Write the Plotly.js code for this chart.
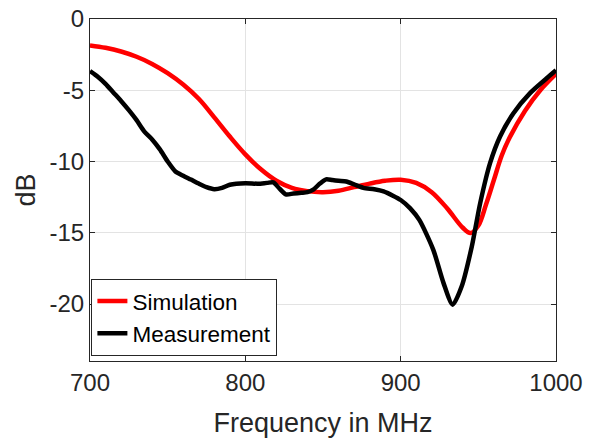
<!DOCTYPE html>
<html>
<head>
<meta charset="utf-8">
<script src="https://cdn.plot.ly/plotly-3.0.1.min.js"></script>
<style>html,body{margin:0;padding:0;background:#fff;}#chart{width:595px;height:439px;}</style>
</head>
<body>
<div id="chart"></div>
<script>
const simFreq = [700,710,720,730,740,750,760,770,780,790,800,810,820,830,840,850,860,870,880,890,900,910,920,930,940,945,950,955,960,965,970,980,990,1000];
const simDB   = [-1.85,-2.02,-2.28,-2.65,-3.15,-3.8,-4.6,-5.6,-6.9,-8.25,-9.5,-10.55,-11.35,-11.85,-12.08,-12.15,-12.05,-11.8,-11.55,-11.35,-11.28,-11.5,-12.15,-13.3,-14.65,-15.02,-14.5,-13.0,-11.3,-9.6,-8.35,-6.45,-4.98,-3.85];

const measFreq = [700,705,710,715,720,725,730,735,740,745,750,755,760,765,770,775,780,785,790,800,808,814,818,822,826,831,836,840,844,848,852,856,860,865,870,876,883,889,895,900,906,912,921,927.5,933.5,939.3,945.8,951.2,957.6,964,972.6,983.3,994,1000];
const measDB   = [-3.65,-4.05,-4.55,-5.15,-5.75,-6.4,-7.1,-7.9,-8.45,-9.15,-10.0,-10.7,-11.0,-11.27,-11.55,-11.8,-11.94,-11.85,-11.63,-11.52,-11.56,-11.5,-11.47,-11.9,-12.3,-12.25,-12.2,-12.15,-11.95,-11.55,-11.25,-11.3,-11.35,-11.4,-11.6,-11.85,-11.95,-12.1,-12.4,-12.7,-13.27,-14.1,-16.2,-18.5,-20.05,-18.76,-15.96,-12.92,-10.1,-8.25,-6.61,-5.2,-4.16,-3.6];

const seriesNames = ["Simulation","Measurement"];
const xTicks = [700,800,900,1000];
const yTicks = [-20,-15,-10,-5,0];

const fontFam = '"Liberation Sans", Arial, Helvetica, sans-serif';
const txt = '#262626';

const traces = [
  {x: simFreq, y: simDB, name: seriesNames[0], mode: 'lines',
   line: {color: '#ff0000', width: 4.5, shape: 'spline', smoothing: 1}},
  {x: measFreq, y: measDB, name: seriesNames[1], mode: 'lines',
   line: {color: '#000000', width: 4.5, shape: 'spline', smoothing: 0.7}}
];

const layout = {
  width: 595, height: 439,
  margin: {l: 90, r: 39, t: 19, b: 78},
  paper_bgcolor: '#fff', plot_bgcolor: '#fff',
  font: {family: fontFam, color: txt, size: 24},
  showlegend: true,
  legend: {
    x: 0.003, y: 0.015, xanchor: 'left', yanchor: 'bottom',
    bgcolor: '#fff', bordercolor: txt, borderwidth: 1,
    font: {family: fontFam, size: 22.5, color: '#000'},
    tracegroupgap: 0, itemwidth: 30
  },
  xaxis: {
    range: [700, 1000], tickvals: xTicks, ticktext: xTicks.map(String),
    ticks: 'inside', ticklen: 5, tickwidth: 1, tickcolor: txt,
    showline: true, linecolor: txt, linewidth: 1, mirror: 'ticks',
    showgrid: true, gridcolor: '#e3e3e3', gridwidth: 1, zeroline: false,
    tickfont: {family: fontFam, size: 24, color: txt},
    title: {text: 'Frequency in MHz', font: {family: fontFam, size: 27, color: txt}, standoff: 18}
  },
  yaxis: {
    range: [-24, 0], tickvals: yTicks, ticktext: yTicks.map(String),
    ticks: 'inside', ticklen: 5, tickwidth: 1, tickcolor: txt,
    showline: true, linecolor: txt, linewidth: 1, mirror: 'ticks',
    showgrid: true, gridcolor: '#e3e3e3', gridwidth: 1, zeroline: false,
    tickfont: {family: fontFam, size: 24, color: txt},
    title: {text: 'dB', font: {family: fontFam, size: 27, color: txt}, standoff: 6}
  }
};

Plotly.newPlot('chart', traces, layout, {displayModeBar: false, staticPlot: true});
</script>
</body>
</html>
